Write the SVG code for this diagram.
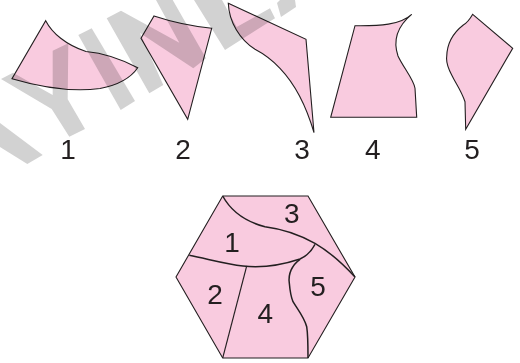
<svg xmlns="http://www.w3.org/2000/svg" width="520" height="363" viewBox="0 0 520 363">
<style>
.wm{fill:#d2d2d2}
.p{fill:#f9cbdf;stroke:#231f20;stroke-width:1.1;stroke-linejoin:miter;mix-blend-mode:multiply}
.l{fill:none;stroke:#231f20;stroke-width:1.1}
.b{stroke-width:1.5}
.t{font-family:"Liberation Sans",Arial,sans-serif;font-size:28px;fill:#231f20;text-anchor:middle}
</style>
<rect width="520" height="363" fill="#fff"/>
<g id="watermark">
<polygon class="wm" points="1,79 13,72.7 52.7,95 52.7,50.7 68.3,43.3 67.7,99.3 85,129 69.3,136.7 51.7,109"/>
<polygon class="wm" points="78.3,35 91.7,28.3 135,101 120.7,110"/>
<polygon class="wm" points="106.7,18.3 121,10.7 179.3,42.7 156,0 172.7,0 206,58.3 193.3,68.3 140,33 163.3,85 149.3,93.3"/>
<polygon class="wm" points="194,0 222,0 236.7,27 270,8.3 275,18.3 225,50"/>
<polygon class="wm" points="277,3 280,0 295,0 296,7 281,17"/>
<polygon class="wm" points="0,123 42.7,155 27.3,164 0,147"/>
</g>
<g id="piece-1"><path class="p" d="M45.7,20.7C52,33 66,45 86,51.5C103,53 121,59 137.7,67.7C130,79 118,85 100,88.5C72,92 40,87 12,78.7Z"/></g>
<g id="piece-2"><path class="p" d="M154,16C172,22 190,26 211.7,28.3L187.7,119.3L141,38.3Z"/></g>
<g id="piece-3"><path class="p" d="M228.3,3.3L306,39.3L314,132.7C306,105 295,84 280,68.3C273,61 264,54 255,49.3C240,40 229,22 228.3,3.3Z"/></g>
<g id="piece-4"><path class="p" d="M355,25.7C380,26 400,25 411.7,14.3C400,24 392,38 398,56C403,67 414,80 415,88.3L416.7,117.3L330.7,117.3Z"/></g>
<g id="piece-5"><path class="p" d="M472.7,14.3L512.7,48.3L465.7,129.3L465,101.7C461,90 456,84 451.7,75C448,68 446,62 446.7,56.7C447,43 453,33 463.3,25C467,23 470,19 472.7,14.3Z"/></g>
<g id="labels">
<text class="t" x="68" y="158.5">1</text>
<text class="t" x="183" y="158.5">2</text>
<text class="t" x="302" y="158.5">3</text>
<text class="t" x="372.7" y="158.5">4</text>
<text class="t" x="472" y="158.5">5</text>
</g>
<g id="hexagon">
<polygon class="p" points="222.7,196 308,196 355,277 308,358 222.7,358 176,277"/>
</g>
<g id="connectors">
<path class="l b" d="M222.7,196C232,213 247,222 265,226.7C283,229 300,235 315,243.3C330,252 343,264 355,277"/>
<path class="l b" d="M189.3,255.3C208,259 226,264 243,266C262,268 282,265 300,259C307,256 312,250 315,244.3"/>
<path class="l" d="M246.7,266L222.7,358"/>
<path class="l b" d="M300,259.3C292,265 288,274 289.3,283C290,291 291,297 293,301.7C298,310 304,317 306.7,326.7C308,335 308,345 308,358"/>
</g>
<g id="hex-labels">
<text class="t" x="291.7" y="222.5">3</text>
<text class="t" x="232" y="251.5">1</text>
<text class="t" x="215" y="303.5">2</text>
<text class="t" x="318" y="295.5">5</text>
<text class="t" x="265.3" y="323">4</text>
</g>
</svg>
